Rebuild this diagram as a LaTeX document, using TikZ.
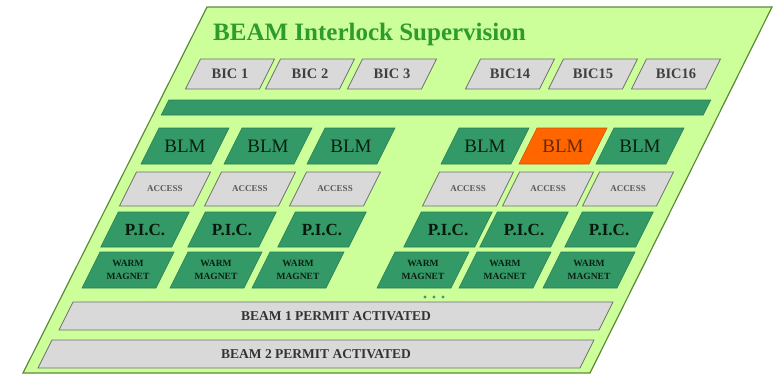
\documentclass[tikz,border=0pt]{standalone}
\usepackage{fontspec}
\setmainfont{Liberation Serif}
\usepackage{tikz}
\definecolor{platefill}{HTML}{CCFF99}
\definecolor{plateline}{HTML}{5E8A3A}
\definecolor{deepgreen}{HTML}{339966}
\definecolor{deepline}{HTML}{2A7D55}
\definecolor{greyfill}{HTML}{D9D9D9}
\definecolor{greyline}{HTML}{707070}
\definecolor{hotfill}{HTML}{FF6600}
\definecolor{titlegreen}{HTML}{2E9B2E}
\tikzset{%
  every node/.style={inner sep=0pt, align=center},
  plate/.style={fill=platefill, draw=plateline, line width=1.2pt},
  title/.style={text=titlegreen, font=\fontsize{25}{29}\selectfont\bfseries},
  grey/.style={fill=greyfill, draw=greyline, line width=0.8pt},
  dark/.style={fill=deepgreen, draw=deepline, line width=0.6pt},
  bic/.style={grey},
  bic txt/.style={text=black!75, font=\fontsize{14.5}{16}\selectfont\bfseries},
  bus/.style={dark},
  bus txt/.style={},
  blm/.style={dark},
  blm txt/.style={text=black!80!deepgreen, font=\fontsize{19}{21}\selectfont},
  hot/.style={fill=hotfill, draw=hotfill!80!black, line width=0.6pt},
  hot txt/.style={text=hotfill!40!black, font=\fontsize{19}{21}\selectfont},
  acc/.style={grey},
  acc txt/.style={text=black!65, font=\fontsize{9}{10}\selectfont\bfseries},
  pic/.style={dark},
  pic txt/.style={text=black!85!deepgreen, font=\fontsize{17}{19}\selectfont\bfseries},
  warm/.style={dark},
  warm txt/.style={text=black!80!deepgreen, font=\fontsize{9.5}{12.5}\selectfont\bfseries},
  permit/.style={grey},
  permit txt/.style={text=black!80, font=\fontsize{13.5}{15}\selectfont\bfseries}
}
\newcommand{\slbox}[7]{%
  \draw[#1] (#3-#5/2+#6/4,#4-#6/2) -- (#3+#5/2+#6/4,#4-#6/2)
    -- (#3+#5/2-#6/4,#4+#6/2) -- (#3-#5/2-#6/4,#4+#6/2) -- cycle;
  \node[#1 txt] (#2) at (#3,#4) {#7};}

\begin{document}
\begin{tikzpicture}[x=1pt, y=-1pt]
    \useasboundingbox (0,0) rectangle (775,375);
    \draw[plate] (207,7) -- (772,7) -- (590,373) -- (23,373) -- cycle;
    \node[title, anchor=base west] (head) at (213,40) {BEAM Interlock Supervision};

    \foreach \n/\x/\t in {1/230/BIC 1, 2/310/BIC 2, 3/392/BIC 3,
                          14/510/BIC14, 15/593/BIC15, 16/676/BIC16}
      \slbox{bic}{bic\n}{\x}{74}{74}{30}{\t};
    \slbox{bus}{bus}{436}{107.5}{542}{15}{};

    \foreach \n/\x in {1/185, 2/268, 3/351, 4/485, 6/640}
      \slbox{blm}{blm\n}{\x}{146}{70}{36}{BLM};
    \slbox{hot}{blm5}{563}{146}{70}{36}{BLM};

    \foreach \n/\x in {1/165, 2/250, 3/335, 4/468, 5/548, 6/628}
      \slbox{acc}{acc\n}{\x}{189}{74}{34}{ACCESS};
    \foreach \n/\x in {1/145, 2/232, 3/322, 4/448, 5/524, 6/609}
      \slbox{pic}{pic\n}{\x}{229.5}{71}{35}{P.I.C.};
    \foreach \n/\x in {1/128, 2/216, 3/298, 4/423, 5/505, 6/589}
      \slbox{warm}{warm\n}{\x}{270}{74}{36}{WARM\\MAGNET};

    \foreach \i in {0,1,2}
      \fill[deepgreen!60!gray] (425+\i*9,297) circle (1.7);

    \slbox{permit}{beam1}{336}{316}{540}{28}{BEAM 1 PERMIT ACTIVATED};
    \slbox{permit}{beam2}{316}{354}{542}{28}{BEAM 2 PERMIT ACTIVATED};
\end{tikzpicture}
\end{document}
